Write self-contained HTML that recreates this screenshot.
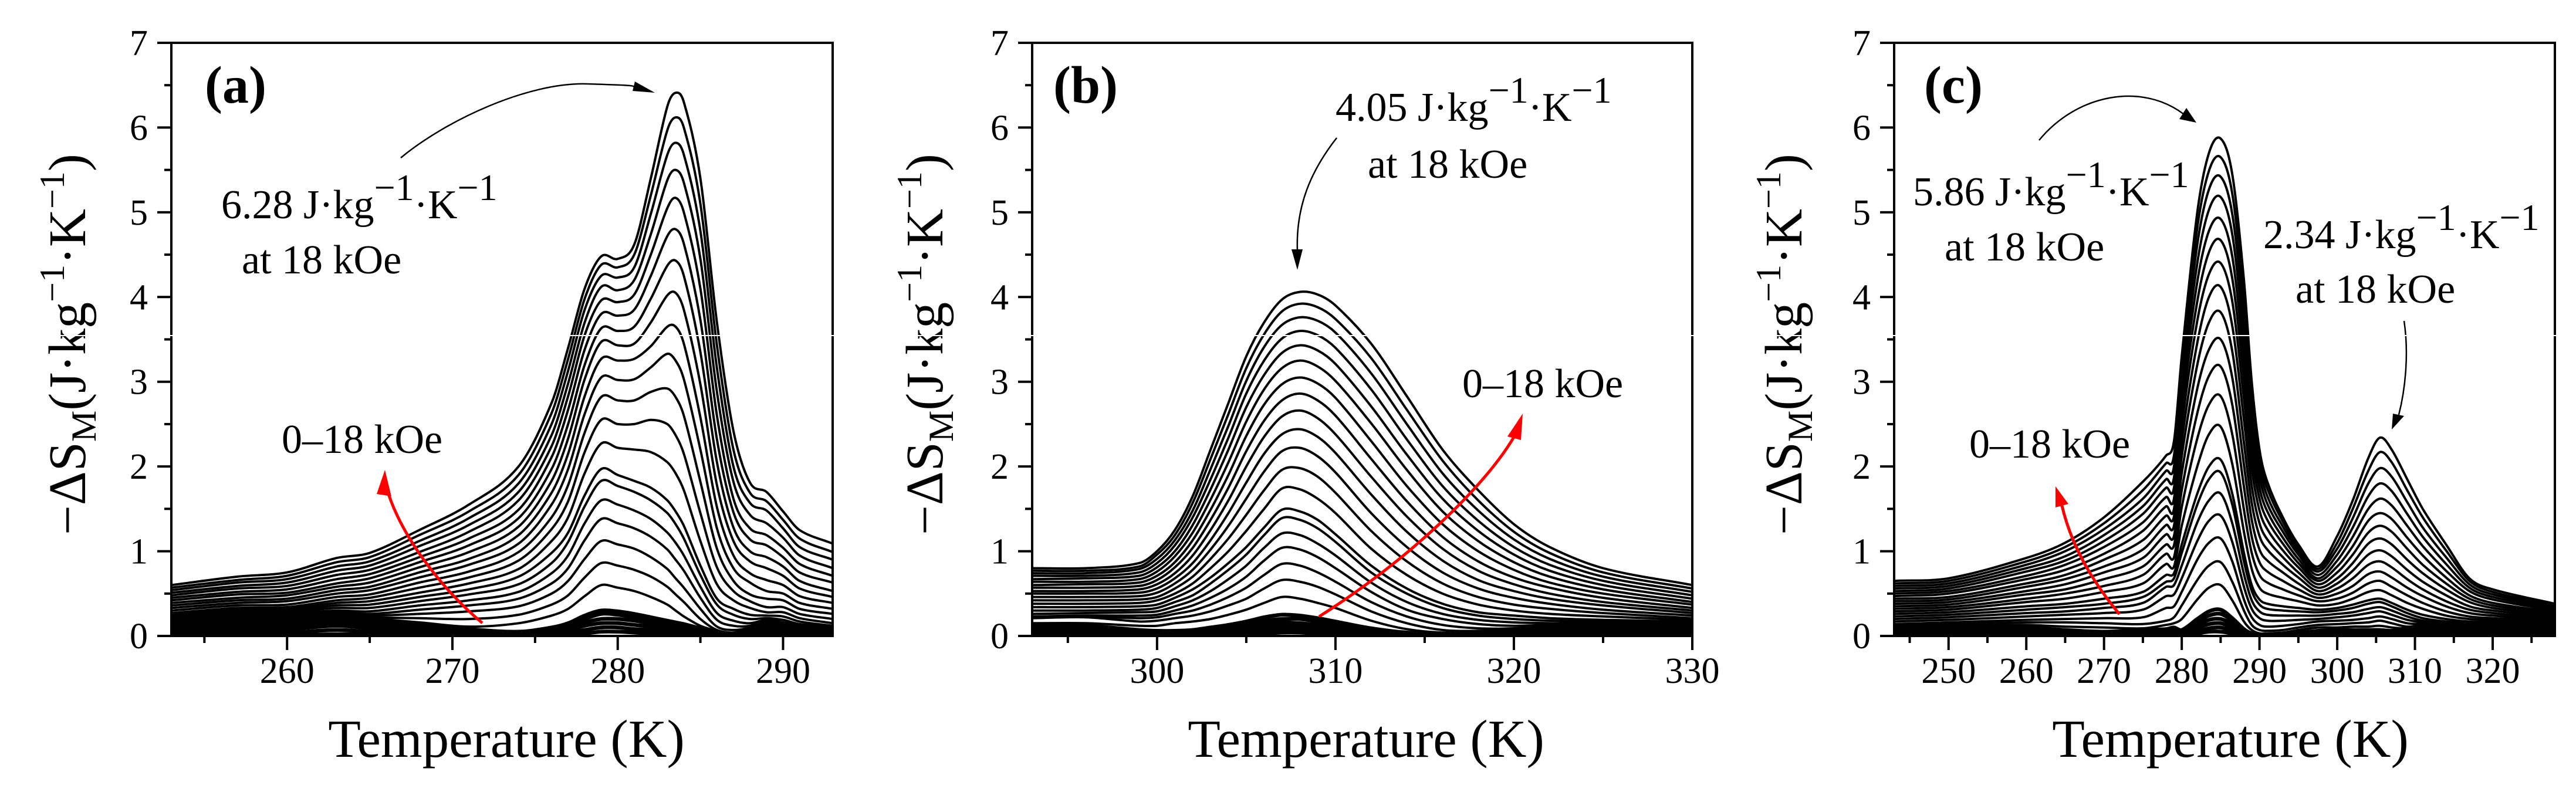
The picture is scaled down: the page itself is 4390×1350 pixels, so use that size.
<!DOCTYPE html>
<html>
<head>
<meta charset="utf-8">
<title>Magnetic entropy change curves</title>
<style>
html,body{margin:0;padding:0;background:#fff;}
svg{display:block;}
text{font-family:"Liberation Serif","DejaVu Serif",serif;fill:#000;}
</style>
</head>
<body>
<svg id="figure" xmlns="http://www.w3.org/2000/svg" width="4390" height="1350" viewBox="0 0 4390 1350">
<rect width="4390" height="1350" fill="#fff"/>
<defs>
<clipPath id="clip-a"><rect x="292" y="73" width="1127" height="1011"/></clipPath>
<clipPath id="clip-b"><rect x="1759" y="73" width="1125" height="1011"/></clipPath>
<clipPath id="clip-c"><rect x="3228" y="73" width="1126" height="1011"/></clipPath>
</defs>
<g id="panel-a"></g>
<g id="panel-b"></g>
<g id="panel-c"></g>

<g>
<text x="349" y="175" font-size="90" font-weight="bold">(a)</text>
<text x="377" y="372" font-size="70">6.28 J·kg<tspan dy="-31" font-size="64">−1</tspan><tspan dy="31">·K</tspan><tspan dy="-31" font-size="64">−1</tspan></text>
<text x="412" y="466" font-size="70">at 18 kOe</text>
<text x="480" y="772" font-size="70">0–18 kOe</text>
<path d="M683,269 C760,205 900,140 1000,143 S1070,146 1085,149" fill="none" stroke="#000" stroke-width="2.5"/>
<polygon points="1116,158 1082,139 1078,155"/>
<path d="M822,1062 C760,1010 690,925 662,842" fill="none" stroke="#f00" stroke-width="5"/>
<polygon points="656,801 642,842 667,846" fill="#f00"/>
</g>

<g>
<text x="1795" y="175" font-size="90" font-weight="bold">(b)</text>
<text x="2276" y="206" font-size="70">4.05 J·kg<tspan dy="-31" font-size="64">−1</tspan><tspan dy="31">·K</tspan><tspan dy="-31" font-size="64">−1</tspan></text>
<text x="2331" y="303" font-size="70">at 18 kOe</text>
<text x="2492" y="677" font-size="70">0–18 kOe</text>
<path d="M2278,235 C2235,290 2208,350 2211,428" fill="none" stroke="#000" stroke-width="2.5"/>
<polygon points="2211,460 2201,425 2220,425"/>
<path d="M2248,1051 C2400,955 2530,830 2580,745" fill="none" stroke="#f00" stroke-width="5"/>
<polygon points="2595,705 2569,744 2592,750" fill="#f00"/>
</g>

<g>
<text x="3279" y="175" font-size="90" font-weight="bold">(c)</text>
<text x="3260" y="350" font-size="70">5.86 J·kg<tspan dy="-31" font-size="64">−1</tspan><tspan dy="31">·K</tspan><tspan dy="-31" font-size="64">−1</tspan></text>
<text x="3314" y="444" font-size="70">at 18 kOe</text>
<text x="3857" y="423" font-size="70">2.34 J·kg<tspan dy="-31" font-size="64">−1</tspan><tspan dy="31">·K</tspan><tspan dy="-31" font-size="64">−1</tspan></text>
<text x="3912" y="516" font-size="70">at 18 kOe</text>
<text x="3356" y="780" font-size="70">0–18 kOe</text>
<path d="M3475,239 C3540,160 3650,140 3722,195" fill="none" stroke="#000" stroke-width="2.5"/>
<polygon points="3743,209 3726,184 3714,203"/>
<path d="M4097,547 C4105,600 4100,660 4088,707" fill="none" stroke="#000" stroke-width="2.5"/>
<polygon points="4076,732 4078,705 4097,709"/>
<path d="M3612,1047 C3565,990 3530,930 3514,862" fill="none" stroke="#f00" stroke-width="5"/>
<polygon points="3503,829 3503,865 3525,859" fill="#f00"/>
</g>

<text transform="translate(145,587) rotate(-90)" text-anchor="middle" font-size="90">−ΔS<tspan dy="18" font-size="60">M</tspan><tspan dy="-18">(J·kg</tspan><tspan dy="-36" font-size="60">−1</tspan><tspan dy="36">·K</tspan><tspan dy="-36" font-size="60">−1</tspan><tspan dy="36">)</tspan></text>
<text transform="translate(1606,587) rotate(-90)" text-anchor="middle" font-size="90">−ΔS<tspan dy="18" font-size="60">M</tspan><tspan dy="-18">(J·kg</tspan><tspan dy="-36" font-size="60">−1</tspan><tspan dy="36">·K</tspan><tspan dy="-36" font-size="60">−1</tspan><tspan dy="36">)</tspan></text>
<text transform="translate(3070,587) rotate(-90)" text-anchor="middle" font-size="90">−ΔS<tspan dy="18" font-size="60">M</tspan><tspan dy="-18">(J·kg</tspan><tspan dy="-36" font-size="60">−1</tspan><tspan dy="36">·K</tspan><tspan dy="-36" font-size="60">−1</tspan><tspan dy="36">)</tspan></text>
<text x="863" y="1290" text-anchor="middle" font-size="91">Temperature (K)</text>
<text x="2328" y="1290" text-anchor="middle" font-size="91">Temperature (K)</text>
<text x="3801" y="1290" text-anchor="middle" font-size="91">Temperature (K)</text>
<rect x="0" y="571" width="4390" height="2" fill="#fff"/>
</svg>

<script>
const yTickValues = [0, 1, 2, 3, 4, 5, 6, 7];
const yMinorValues = [0.5, 1.5, 2.5, 3.5, 4.5, 5.5, 6.5];

// Panel (a): one row per temperature, one column per field curve (18 kOe first)
const tempsA = [253, 257, 260, 263, 265, 268, 271, 274, 276, 277, 278, 279, 280, 281, 282, 283, 283.5, 284, 285, 286, 287, 288, 289, 290, 291, 293];
const xTicksA = [260, 270, 280, 290];
const xMinorA = [255, 265, 275, 285];
const sectionsA = [
[.60,.57,.54,.51,.48,.45,.42,.39,.36,.33,.30,.27,.25,.23,.21,.19,.17,.15,.13,.11,.10,.08,.06,.045,.03,.01],
[.70,.66,.63,.59,.56,.52,.49,.45,.42,.39,.36,.33,.31,.29,.27,.25,.23,.21,.19,.18,.16,.13,.10,.07,.04,.01],
[.75,.71,.67,.63,.59,.55,.51,.48,.44,.41,.37,.34,.32,.30,.28,.26,.24,.22,.21,.20,.18,.15,.11,.08,.04,.01],
[.92,.87,.82,.77,.72,.67,.62,.58,.54,.50,.46,.42,.39,.36,.33,.30,.28,.26,.25,.25,.24,.20,.16,.12,.07,.02],
[.98,.93,.88,.83,.78,.73,.68,.63,.58,.54,.49,.45,.41,.37,.33,.29,.26,.24,.22,.21,.20,.16,.12,.09,.05,.02],
[1.25,1.19,1.12,1.06,.99,.93,.87,.81,.75,.69,.63,.57,.51,.46,.41,.36,.31,.26,.21,.16,.14,.11,.08,.06,.03,.01],
[1.55,1.47,1.39,1.31,1.23,1.15,1.07,.99,.91,.84,.76,.69,.62,.55,.49,.42,.36,.29,.20,.11,.08,.06,.05,.03,.02,.01],
[2.0,1.9,1.8,1.7,1.6,1.49,1.39,1.29,1.19,1.09,.99,.89,.79,.7,.61,.52,.44,.35,.25,.15,.05,.04,.03,.02,.01,.01],
[2.75,2.63,2.5,2.37,2.24,2.11,1.97,1.83,1.69,1.55,1.4,1.26,1.12,.98,.86,.74,.62,.5,.37,.24,.1,.09,.07,.05,.03,.01],
[3.4,3.27,3.13,2.98,2.83,2.67,2.5,2.33,2.15,1.97,1.78,1.59,1.4,1.22,1.11,.95,.8,.65,.48,.32,.15,.13,.1,.07,.04,.02],
[4.1,3.98,3.85,3.7,3.55,3.38,3.2,3.03,2.83,2.62,2.4,2.17,1.92,1.66,1.53,1.33,1.13,.91,.69,.47,.24,.2,.16,.12,.07,.03],
[4.48,4.38,4.25,4.12,3.96,3.8,3.63,3.47,3.27,3.05,2.82,2.55,2.27,1.97,1.83,1.6,1.38,1.12,.86,.6,.3,.26,.2,.15,.1,.05],
[4.45,4.35,4.23,4.08,3.94,3.78,3.6,3.43,3.25,3.02,2.78,2.5,2.22,1.9,1.77,1.55,1.33,1.08,.83,.57,.29,.25,.2,.15,.1,.05],
[4.62,4.5,4.35,4.2,4.03,3.85,3.65,3.45,3.27,3.03,2.78,2.5,2.2,1.83,1.7,1.48,1.27,1.03,.78,.53,.26,.22,.18,.13,.08,.04],
[5.4,5.2,4.98,4.74,4.5,4.25,3.98,3.7,3.42,3.17,2.88,2.55,2.17,1.75,1.6,1.38,1.17,.93,.7,.46,.22,.19,.15,.11,.07,.03],
[6.25,5.97,5.68,5.38,5.05,4.72,4.37,4.02,3.65,3.33,2.92,2.5,2.05,1.6,1.45,1.22,1.02,.79,.58,.37,.18,.15,.11,.08,.05,.02],
[6.41,6.12,5.82,5.5,5.17,4.8,4.43,4.05,3.65,3.25,2.82,2.37,1.92,1.47,1.32,1.1,.9,.68,.49,.3,.16,.13,.1,.07,.04,.02],
[6.3,6.0,5.68,5.35,5.0,4.63,4.25,3.85,3.45,3.03,2.6,2.15,1.72,1.3,1.15,.95,.77,.57,.4,.23,.14,.11,.08,.06,.03,.01],
[5.4,5.1,4.78,4.45,4.1,3.73,3.35,2.97,2.58,2.2,1.82,1.45,1.12,.83,.72,.58,.45,.32,.2,.12,.09,.07,.05,.04,.02,.01],
[3.7,3.43,3.16,2.88,2.6,2.32,2.05,1.78,1.52,1.27,1.03,.81,.61,.44,.37,.27,.19,.11,.07,.06,.05,.04,.03,.02,.01,.01],
[2.42,2.2,2.0,1.82,1.62,1.46,1.28,1.12,.95,.8,.65,.53,.42,.32,.25,.18,.12,.07,.04,.02,.02,.01,.01,.01,.01,.01],
[1.81,1.69,1.57,1.43,1.27,1.14,1.0,.88,.74,.63,.49,.41,.33,.25,.2,.15,.12,.1,.09,.08,.07,.06,.05,.03,.02,.01],
[1.70,1.59,1.48,1.33,1.19,1.07,.93,.8,.66,.53,.44,.34,.28,.24,.21,.19,.18,.17,.16,.15,.14,.11,.09,.06,.04,.01],
[1.47,1.37,1.27,1.16,1.04,.93,.82,.71,.6,.5,.42,.34,.28,.23,.19,.16,.14,.13,.12,.11,.1,.09,.07,.05,.03,.01],
[1.25,1.15,1.05,.95,.85,.75,.65,.56,.47,.39,.32,.26,.21,.17,.14,.12,.11,.1,.1,.09,.09,.08,.06,.05,.03,.01],
[1.09,.99,.9,.8,.71,.63,.53,.46,.39,.32,.26,.2,.15,.12,.11,.1,.1,.1,.09,.09,.09,.07,.06,.04,.03,.01]
];

// Panel (b)
const tempsB = [293, 296, 299, 300, 301, 302, 303, 304, 305, 306, 307, 308, 309, 310, 312, 314, 316, 318, 320, 322, 325, 330];
const xTicksB = [300, 310, 320, 330];
const xMinorB = [295, 305, 315, 325];
const sectionsB = [
[.80,.77,.74,.71,.67,.64,.60,.57,.53,.50,.46,.42,.38,.34,.30,.26,.23,.22,.21,.15,.12,.10,.08,.06,.04,.01],
[.80,.77,.74,.71,.68,.64,.61,.57,.53,.50,.46,.42,.38,.34,.30,.27,.24,.23,.22,.15,.12,.10,.08,.06,.04,.01],
[.86,.82,.79,.75,.71,.67,.63,.59,.55,.51,.47,.43,.39,.35,.31,.28,.24,.21,.17,.12,.07,.05,.04,.03,.02,.01],
[1.0,.96,.91,.86,.81,.76,.71,.66,.61,.56,.51,.46,.42,.37,.33,.29,.25,.22,.18,.12,.06,.05,.04,.03,.02,.01],
[1.25,1.19,1.13,1.07,1.0,.94,.87,.81,.74,.68,.62,.56,.5,.45,.4,.35,.3,.26,.21,.15,.06,.05,.04,.03,.02,.01],
[1.65,1.57,1.48,1.4,1.31,1.22,1.13,1.04,.95,.86,.78,.7,.62,.55,.48,.42,.36,.3,.24,.17,.07,.06,.05,.03,.02,.01],
[2.2,2.09,1.97,1.85,1.73,1.61,1.49,1.37,1.25,1.13,1.02,.91,.8,.69,.62,.53,.45,.37,.29,.2,.1,.08,.06,.05,.03,.01],
[2.75,2.62,2.48,2.34,2.2,2.05,1.9,1.75,1.6,1.45,1.3,1.15,1.0,.86,.78,.67,.56,.46,.36,.25,.13,.11,.08,.06,.04,.02],
[3.3,3.16,3.01,2.86,2.7,2.53,2.36,2.18,2.0,1.81,1.62,1.43,1.24,1.05,.96,.83,.7,.57,.44,.31,.17,.14,.11,.08,.05,.02],
[3.7,3.56,3.41,3.25,3.08,2.91,2.73,2.54,2.35,2.15,1.94,1.72,1.5,1.28,1.19,1.04,.89,.72,.56,.39,.22,.18,.14,.1,.07,.03],
[3.97,3.83,3.67,3.51,3.34,3.16,2.97,2.78,2.59,2.38,2.18,1.96,1.74,1.49,1.39,1.21,1.04,.85,.66,.46,.25,.2,.16,.12,.08,.04],
[4.06,3.92,3.76,3.6,3.43,3.25,3.05,2.86,2.66,2.44,2.22,1.98,1.73,1.47,1.37,1.19,1.02,.83,.64,.44,.24,.2,.15,.11,.07,.04],
[4.03,3.88,3.72,3.55,3.37,3.18,2.98,2.78,2.57,2.35,2.12,1.88,1.62,1.37,1.27,1.09,.93,.75,.58,.39,.21,.17,.13,.1,.06,.03],
[3.9,3.74,3.58,3.4,3.21,3.01,2.81,2.6,2.38,2.16,1.93,1.69,1.45,1.2,1.11,.95,.8,.64,.49,.33,.17,.14,.11,.08,.05,.02],
[3.45,3.28,3.1,2.91,2.71,2.51,2.3,2.09,1.88,1.67,1.45,1.24,1.03,.83,.75,.63,.52,.4,.29,.18,.09,.07,.06,.04,.02,.01],
[2.83,2.67,2.5,2.32,2.14,1.96,1.77,1.59,1.41,1.23,1.05,.88,.72,.56,.5,.4,.31,.23,.15,.08,.04,.03,.03,.02,.02,.01],
[2.2,2.07,1.92,1.77,1.62,1.47,1.32,1.17,1.03,.89,.75,.62,.5,.38,.33,.26,.2,.13,.07,.04,.03,.03,.02,.02,.01,.01],
[1.72,1.6,1.48,1.36,1.24,1.12,1.0,.88,.77,.66,.56,.46,.37,.28,.24,.19,.14,.09,.06,.05,.04,.03,.03,.02,.01,.01],
[1.32,1.23,1.14,1.05,.96,.87,.78,.69,.61,.53,.45,.37,.3,.24,.2,.16,.12,.09,.08,.07,.06,.05,.04,.03,.02,.01],
[1.05,.98,.91,.84,.77,.7,.63,.57,.5,.44,.38,.32,.26,.21,.18,.15,.13,.12,.11,.1,.09,.07,.05,.04,.02,.01],
[.8,.75,.7,.65,.6,.55,.5,.45,.4,.36,.31,.27,.23,.19,.17,.15,.14,.13,.12,.11,.1,.08,.06,.04,.03,.01],
[.6,.56,.52,.48,.44,.4,.37,.33,.3,.27,.24,.21,.19,.17,.15,.14,.13,.12,.12,.11,.1,.08,.06,.04,.03,.01]
];

// Panel (c)
const tempsC = [243, 250, 260, 265, 270, 275, 278, 279, 280, 282, 283.5, 285, 286.5, 288, 289, 290, 291, 293, 295, 297.5, 300, 302, 304, 305.5, 307, 309, 311, 314, 317, 320, 328];
const xTicksC = [250, 260, 270, 280, 290, 300, 310, 320];
const xMinorC = [245, 255, 265, 275, 285, 295, 305, 315, 325];
const sectionsC = [
[.65,.62,.59,.56,.53,.50,.47,.44,.41,.38,.35,.32,.29,.26,.23,.20,.17,.14,.13,.12,.10,.08,.06,.04,.03,.01],
[.68,.65,.62,.59,.56,.53,.50,.46,.43,.40,.37,.34,.31,.28,.25,.22,.19,.16,.14,.12,.10,.08,.06,.04,.03,.01],
[.92,.88,.84,.8,.76,.71,.67,.62,.58,.53,.49,.44,.40,.35,.31,.27,.23,.19,.16,.13,.10,.08,.06,.04,.03,.01],
[1.10,1.05,1.0,.94,.89,.84,.78,.72,.67,.61,.55,.5,.44,.38,.34,.29,.25,.2,.16,.11,.07,.06,.05,.04,.03,.01],
[1.4,1.33,1.26,1.19,1.12,1.05,.97,.9,.82,.75,.67,.59,.52,.44,.38,.33,.27,.21,.15,.1,.05,.05,.04,.03,.02,.01],
[1.82,1.72,1.62,1.53,1.44,1.34,1.24,1.13,1.02,.92,.82,.72,.62,.52,.46,.39,.31,.22,.14,.09,.07,.06,.05,.03,.02,.01],
[2.13,2.04,1.95,1.85,1.75,1.64,1.53,1.42,1.31,1.2,1.08,.97,.85,.72,.64,.58,.47,.33,.18,.13,.08,.07,.05,.04,.02,.01],
[2.3,2.13,2.0,1.87,1.75,1.62,1.5,1.41,1.3,1.18,1.07,.93,.82,.74,.68,.6,.49,.35,.22,.15,.1,.08,.06,.05,.03,.01],
[3.3,3.2,3.08,2.95,2.8,2.65,2.48,2.3,2.12,1.92,1.72,1.52,1.3,1.08,.98,.83,.68,.52,.36,.2,.07,.06,.05,.04,.02,.01],
[5.0,4.82,4.62,4.4,4.18,3.95,3.72,3.46,3.2,2.92,2.63,2.33,2.0,1.68,1.55,1.34,1.12,.9,.66,.43,.2,.17,.13,.1,.06,.03],
[5.7,5.49,5.27,5.03,4.78,4.53,4.27,4.0,3.7,3.38,3.07,2.73,2.38,2.0,1.85,1.6,1.36,1.1,.83,.57,.29,.24,.19,.14,.09,.05],
[5.87,5.65,5.42,5.18,4.92,4.67,4.4,4.12,3.82,3.5,3.18,2.83,2.47,2.08,1.93,1.68,1.42,1.15,.87,.6,.31,.26,.2,.15,.1,.05],
[5.45,5.22,4.98,4.74,4.48,4.22,3.95,3.66,3.36,3.05,2.73,2.38,2.03,1.68,1.55,1.33,1.11,.88,.64,.42,.21,.18,.14,.1,.06,.03],
[4.2,3.98,3.76,3.52,3.28,3.04,2.8,2.55,2.28,2.02,1.76,1.49,1.23,.98,.88,.73,.58,.43,.3,.17,.08,.07,.06,.05,.03,.02],
[3.0,2.84,2.67,2.5,2.33,2.15,1.97,1.77,1.57,1.37,1.17,.98,.79,.6,.53,.42,.32,.22,.13,.07,.03,.03,.03,.02,.02,.01],
[2.2,2.1,2.0,1.88,1.75,1.62,1.48,1.33,1.18,1.02,.87,.72,.57,.43,.37,.29,.21,.13,.07,.03,.02,.02,.02,.01,.01,.01],
[1.82,1.74,1.65,1.56,1.47,1.37,1.26,1.14,1.02,.89,.76,.63,.5,.38,.32,.25,.18,.11,.06,.03,.02,.02,.02,.01,.01,.01],
[1.4,1.35,1.29,1.23,1.16,1.09,1.01,.93,.84,.75,.65,.55,.45,.35,.3,.24,.18,.12,.07,.04,.03,.02,.02,.01,.01,.01],
[1.08,1.04,1.0,.96,.91,.86,.81,.75,.69,.62,.55,.48,.41,.33,.29,.24,.19,.14,.1,.07,.04,.03,.02,.02,.01,.01],
[.82,.79,.76,.72,.68,.65,.61,.57,.53,.49,.45,.41,.36,.31,.28,.24,.2,.17,.13,.1,.06,.05,.04,.03,.02,.01],
[1.18,1.1,1.03,.96,.89,.82,.75,.68,.62,.56,.5,.44,.38,.33,.3,.26,.22,.18,.14,.1,.07,.05,.04,.03,.02,.01],
[1.6,1.5,1.39,1.28,1.17,1.06,.96,.86,.77,.68,.59,.51,.44,.37,.33,.28,.24,.19,.15,.11,.07,.06,.05,.03,.02,.01],
[2.1,1.95,1.8,1.65,1.5,1.36,1.22,1.09,.96,.84,.73,.62,.52,.42,.38,.32,.27,.21,.16,.11,.07,.06,.05,.03,.02,.01],
[2.34,2.17,1.98,1.8,1.62,1.45,1.3,1.15,1.01,.88,.76,.65,.54,.44,.4,.34,.29,.23,.18,.12,.07,.06,.05,.03,.02,.01],
[2.2,2.05,1.88,1.71,1.54,1.38,1.23,1.08,.94,.81,.69,.58,.48,.39,.35,.3,.25,.2,.15,.1,.06,.05,.04,.03,.02,.01],
[1.85,1.72,1.58,1.44,1.3,1.16,1.03,.9,.78,.67,.57,.48,.39,.31,.27,.23,.19,.15,.11,.09,.08,.07,.05,.03,.02,.01],
[1.5,1.4,1.28,1.17,1.06,.95,.84,.74,.64,.55,.47,.39,.32,.25,.21,.18,.16,.14,.13,.12,.1,.08,.06,.04,.03,.01],
[1.08,1.01,.93,.85,.77,.69,.62,.55,.48,.41,.35,.29,.24,.2,.17,.15,.14,.13,.12,.11,.1,.08,.06,.04,.03,.01],
[.68,.65,.61,.57,.53,.48,.44,.4,.35,.31,.27,.23,.2,.17,.15,.14,.13,.12,.11,.11,.1,.08,.06,.04,.03,.01],
[.55,.52,.49,.46,.43,.39,.36,.33,.3,.27,.24,.21,.19,.17,.15,.14,.13,.12,.11,.11,.1,.08,.06,.04,.03,.01],
[.38,.36,.34,.32,.3,.28,.26,.24,.22,.2,.18,.17,.16,.15,.14,.13,.12,.12,.11,.11,.1,.08,.06,.04,.03,.01]
];

const SVGNS = 'http://www.w3.org/2000/svg';

function add(parent, tag, attrs) {
  const el = document.createElementNS(SVGNS, tag);
  for (const k in attrs) el.setAttribute(k, attrs[k]);
  parent.appendChild(el);
  return el;
}

function smoothPath(points) {
  const n = points.length;
  const slope = i => {
    const a = points[Math.max(0, i - 1)];
    const b = points[Math.min(n - 1, i + 1)];
    return (b[1] - a[1]) / (b[0] - a[0]);
  };
  let d = 'M' + points[0][0].toFixed(1) + ',' + points[0][1].toFixed(1);
  for (let i = 0; i < n - 1; i++) {
    const p = points[i];
    const q = points[i + 1];
    const h = (q[0] - p[0]) / 3;
    d += 'C' + (p[0] + h).toFixed(1) + ',' + (p[1] + slope(i) * h).toFixed(1) + ' ' +
         (q[0] - h).toFixed(1) + ',' + (q[1] - slope(i + 1) * h).toFixed(1) + ' ' +
         q[0].toFixed(1) + ',' + q[1].toFixed(1);
  }
  return d;
}

function drawPanel(id, left, right, xMin, xMax, temps, sections, xTicks, xMinor) {
  const top = 73;
  const bottom = 1084;
  const xScale = t => left + (t - xMin) / (xMax - xMin) * (right - left);
  const yScale = v => bottom - v / 7 * (bottom - top);
  const g = document.getElementById('panel-' + id);

  const curves = add(g, 'g', { 'clip-path': 'url(#clip-' + id + ')', fill: 'none', stroke: '#000', 'stroke-width': '4' });
  
  
  const curveCount = sections[0].length;
  for (let c = curveCount - 1; c >= 0; c--) {
    const pts = temps.map((t, i) => [xScale(t), yScale(sections[i][c])]);
    const path = add(curves, 'path', { d: smoothPath(pts) });
    if (c >= 20) path.setAttribute('stroke-width', '6.5');
    
    
  }

  const frame = add(g, 'rect', { x: left, y: top, width: right - left, height: bottom - top, fill: 'none', stroke: '#000', 'stroke-width': '4' });
  
  

  yTickValues.forEach(v => {
    const y = yScale(v);
    const tick = add(g, 'line', { x1: left - 24, x2: left, y1: y, y2: y, stroke: '#000', 'stroke-width': '4' });
    
    
    const label = add(g, 'text', { x: left - 40, y: y + 21, 'text-anchor': 'end', 'font-size': '62' });
    
    
    label.textContent = v;
  });
  yMinorValues.forEach(v => {
    const y = yScale(v);
    const tick = add(g, 'line', { x1: left - 12, x2: left, y1: y, y2: y, stroke: '#000', 'stroke-width': '4' });
    
    
  });
  xTicks.forEach(v => {
    const x = xScale(v);
    const tick = add(g, 'line', { x1: x, x2: x, y1: bottom, y2: bottom + 24, stroke: '#000', 'stroke-width': '4' });
    
    
    const label = add(g, 'text', { x: x, y: bottom + 80, 'text-anchor': 'middle', 'font-size': '62' });
    
    
    label.textContent = v;
  });
  xMinor.forEach(v => {
    const x = xScale(v);
    const tick = add(g, 'line', { x1: x, x2: x, y1: bottom, y2: bottom + 12, stroke: '#000', 'stroke-width': '4' });
    
    
  });
}

drawPanel('a', 292, 1419, 253, 293, tempsA, sectionsA, xTicksA, xMinorA);
drawPanel('b', 1759, 2884, 293, 330, tempsB, sectionsB, xTicksB, xMinorB);
drawPanel('c', 3228, 4354, 243, 328, tempsC, sectionsC, xTicksC, xMinorC);
</script>
</body>
</html>
